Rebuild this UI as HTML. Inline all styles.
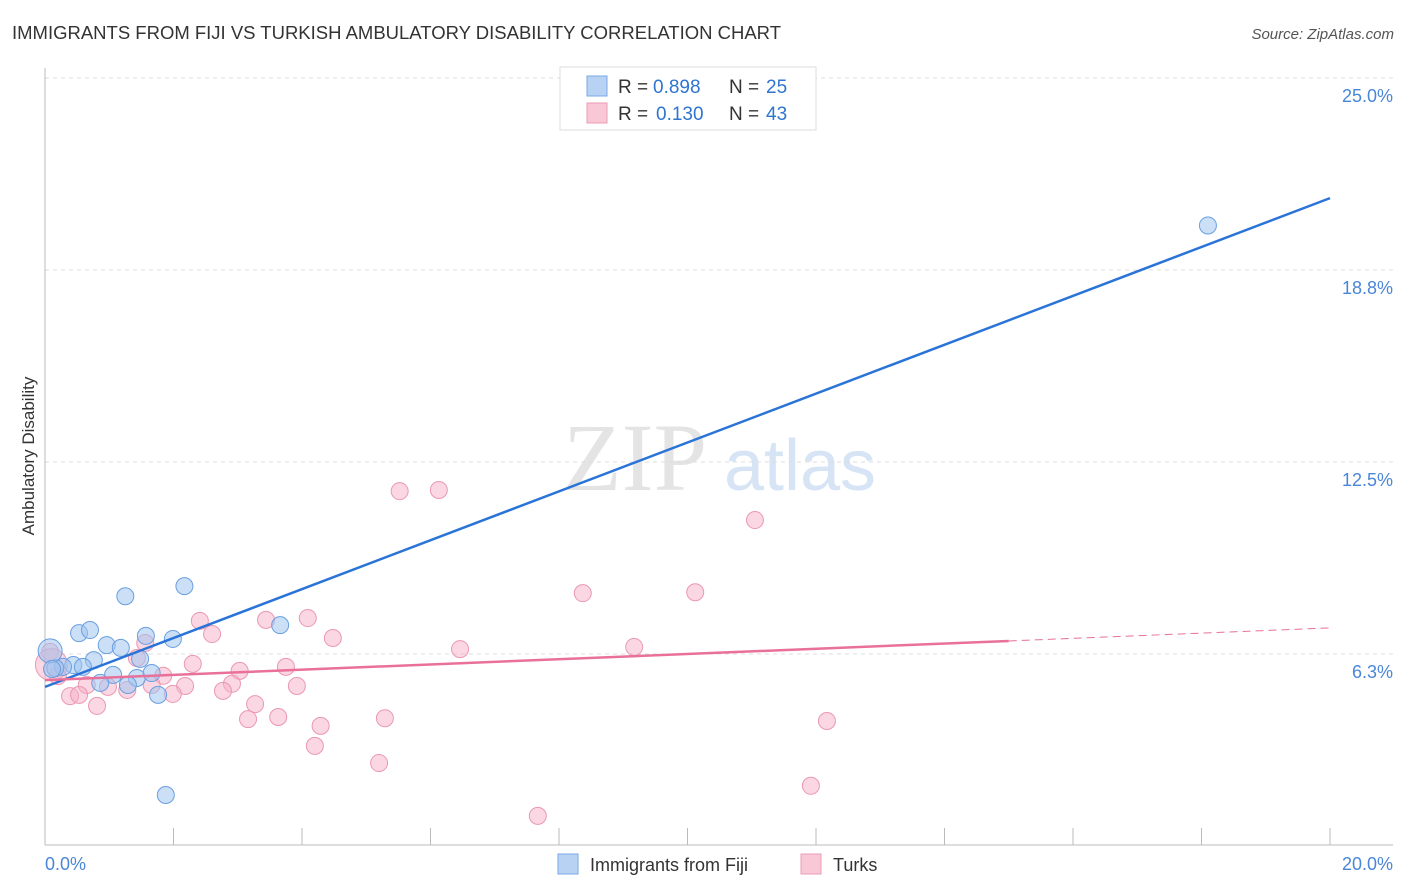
<!DOCTYPE html>
<html><head><meta charset="utf-8"><style>
body{margin:0;background:#fff;font-family:"Liberation Sans",sans-serif}
svg{display:block}
</style></head><body>
<svg id="c" width="1406" height="892">
<text x="12" y="39" font-size="18" fill="#333" textLength="769" lengthAdjust="spacingAndGlyphs">IMMIGRANTS FROM FIJI VS TURKISH AMBULATORY DISABILITY CORRELATION CHART</text>
<text x="1394" y="39" font-size="15" fill="#555" font-style="italic" text-anchor="end">Source: ZipAtlas.com</text>
<text x="635" y="490" font-size="96" fill="#e4e4e4" font-family="Liberation Serif,serif" text-anchor="middle">ZIP</text>
<text x="800" y="490" font-size="72" fill="#d6e4f6" text-anchor="middle">atlas</text>
<g id="grid"></g>
<line x1="45" y1="68" x2="45" y2="845" stroke="#bbb"/>
<line x1="45" y1="845" x2="1393" y2="845" stroke="#bbb"/>
<text transform="translate(34,456) rotate(-90)" font-size="17" fill="#333" text-anchor="middle">Ambulatory Disability</text>
<text x="45" y="870" font-size="18" fill="#4a86d8">0.0%</text>
<text x="1393" y="870" font-size="18" fill="#4a86d8" text-anchor="end">20.0%</text>
<g id="pts"></g>
<g id="lines"></g>
<g>
<rect x="560" y="67" width="256" height="63" fill="#fff" stroke="#ddd"/>
<rect x="587" y="76" width="20" height="20" fill="#b8d2f4" stroke="#7aa8e4"/>
<rect x="587" y="103" width="20" height="20" fill="#f9c8d6" stroke="#ec9db5"/>
<text y="93" font-size="19" fill="#333"><tspan x="618">R =</tspan><tspan x="653" fill="#2f74d0">0.898</tspan><tspan x="729">N =</tspan><tspan x="766" fill="#2f74d0">25</tspan></text>
<text y="120" font-size="19" fill="#333"><tspan x="618">R =</tspan><tspan x="656" fill="#2f74d0">0.130</tspan><tspan x="729">N =</tspan><tspan x="766" fill="#2f74d0">43</tspan></text>
</g>
<g>
<rect x="558" y="854" width="20" height="20" fill="#b8d2f4" stroke="#7aa8e4"/>
<text x="590" y="871" font-size="18" fill="#333">Immigrants from Fiji</text>
<rect x="801" y="854" width="20" height="20" fill="#f9c8d6" stroke="#ec9db5"/>
<text x="833" y="871" font-size="18" fill="#333">Turks</text>
</g>
</svg>
<script>
const yTicks=[6.25,12.5,18.75,25];
const yTickLabels=["6.3%","12.5%","18.8%","25.0%"];
const xTicks=[0,2,4,6,8,10,12,14,16,18,20];
const fijiX=[1.25,2.17,0.53,0.70,0.96,1.18,1.57,1.99,3.66,0.76,0.44,0.28,0.16,0.59,1.48,1.06,1.43,1.66,0.86,1.29,1.76,1.88,18.1,0.08,0.11];
const fijiY=[8.13,8.46,6.93,7.03,6.54,6.45,6.84,6.74,7.19,6.05,5.89,5.83,5.79,5.83,6.09,5.57,5.47,5.63,5.31,5.24,4.92,1.66,20.2,6.35,5.76];
const turkX=[2.41,2.60,3.44,4.09,4.48,1.56,1.43,2.30,3.03,3.75,1.84,0.65,2.18,2.91,2.77,3.92,0.39,0.53,0.81,0.98,1.28,1.99,1.66,3.27,3.16,3.63,4.29,4.20,0.08,0.20,5.52,6.13,11.05,8.37,10.12,6.46,9.17,5.29,12.17,5.20,11.92,7.67,0.10];
const turkY=[7.33,6.90,7.36,7.42,6.77,6.61,6.12,5.93,5.70,5.83,5.54,5.24,5.21,5.28,5.05,5.21,4.88,4.92,4.56,5.18,5.08,4.95,5.24,4.62,4.13,4.20,3.91,3.26,6.32,5.53,11.55,11.59,10.61,8.23,8.26,6.41,6.48,4.16,4.07,2.70,1.96,0.98,5.90];
const fijiLine=[5.18,21.09], turkLine=[5.40,7.10];
const X=v=>45+v/20*1285, Y=v=>846-v/6.25*192;
const NS="http://www.w3.org/2000/svg";
function mk(t,a,p){const e=document.createElementNS(NS,t);for(const k in a)e.setAttribute(k,a[k]);p.appendChild(e);return e;}
const grid=document.getElementById('grid');
yTicks.forEach((v,i)=>{
 const l=mk('line',{x1:45,x2:1393,y1:Y(v),y2:Y(v),stroke:'#ddd','stroke-dasharray':'4,4'},grid);
 
 
 const t=mk('text',{x:1393,y:Y(v)+24,'font-size':18,fill:'#4a86d8','text-anchor':'end'},grid);
 t.textContent=yTickLabels[i];
 
 
});
xTicks.forEach(v=>{
 const l=mk('line',{x1:X(v),x2:X(v),y1:828,y2:845,stroke:'#bbb'},grid);
 
 
});
const pts=document.getElementById('pts');
turkX.forEach((x,i)=>{
 const c=mk('circle',{cx:X(x),cy:Y(turkY[i]),r:i==turkX.length-1?16:8.5,fill:'rgba(246,176,198,0.5)',stroke:'#eb98b2','stroke-width':1},pts);
 
 
});
fijiX.forEach((x,i)=>{
 const c=mk('circle',{cx:X(x),cy:Y(fijiY[i]),r:i==23?12:8.5,fill:'rgba(160,196,240,0.55)',stroke:'#6a9fe0','stroke-width':1},pts);
 
 
});
const lines=document.getElementById('lines');
let l=mk('line',{x1:X(0),y1:Y(fijiLine[0]),x2:X(20),y2:Y(fijiLine[1]),stroke:'#2a74d8','stroke-width':2.5},lines);


const pe=t=>turkLine[0]+(turkLine[1]-turkLine[0])*t/20;
l=mk('line',{x1:X(0),y1:Y(pe(0)),x2:X(15),y2:Y(pe(15)),stroke:'#e8709a','stroke-width':2.5},lines);


l=mk('line',{x1:X(15),y1:Y(pe(15)),x2:X(20),y2:Y(pe(20)),stroke:'#e8709a','stroke-width':1,'stroke-dasharray':'8,5'},lines);


</script>
</body></html>
